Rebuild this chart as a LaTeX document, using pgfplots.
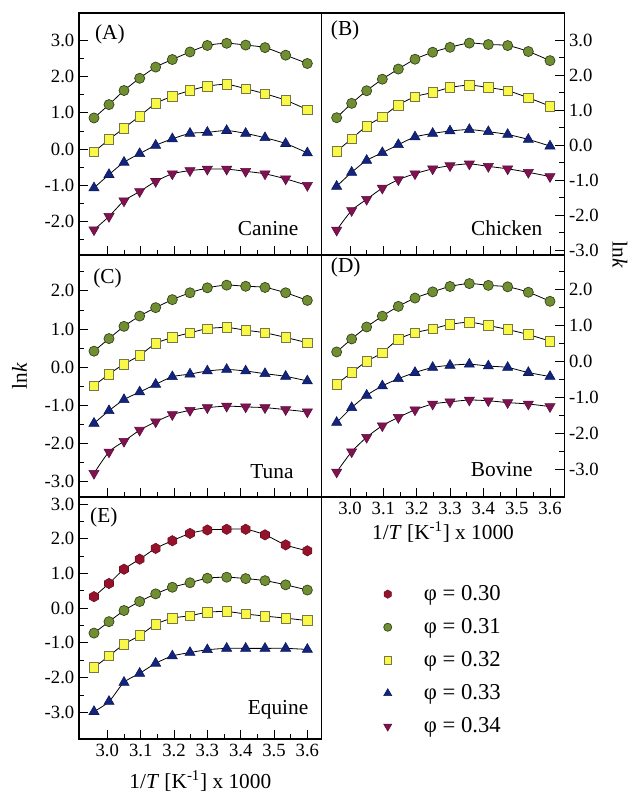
\documentclass[border=0pt]{standalone}
\usepackage{fontspec}
\setmainfont{Liberation Serif}
\usepackage{pgfplots}
\pgfplotsset{compat=1.18}
\usepackage{pgfplotstable}

\definecolor{cred}{RGB}{150,18,42}
\definecolor{cgreen}{RGB}{112,142,50}
\definecolor{cyellow}{RGB}{250,248,70}
\definecolor{cblue}{RGB}{18,36,125}
\definecolor{cpurple}{RGB}{128,18,82}

\newcommand\tickfont{\fontsize{14}{16}\selectfont}
\newcommand\labfont{\fontsize{16}{19}\selectfont}

\pgfdeclareplotmark{hexagon*}{%
  \pgfpathmoveto{\pgfpointpolar{30}{\pgfplotmarksize}}%
  \pgfpathlineto{\pgfpointpolar{90}{\pgfplotmarksize}}%
  \pgfpathlineto{\pgfpointpolar{150}{\pgfplotmarksize}}%
  \pgfpathlineto{\pgfpointpolar{210}{\pgfplotmarksize}}%
  \pgfpathlineto{\pgfpointpolar{270}{\pgfplotmarksize}}%
  \pgfpathlineto{\pgfpointpolar{330}{\pgfplotmarksize}}%
  \pgfpathclose
  \pgfusepathqfillstroke}

% lnk data per panel, x = 1/T x 1000
\pgfplotstableread{
x     p31   p32   p33   p34
2.960 0.86 -0.08 -1.08 -2.24
3.005 1.23  0.26 -0.71 -1.87
3.050 1.62  0.58 -0.37 -1.44
3.097 1.96  0.91 -0.13 -1.18
3.145 2.27  1.26  0.10 -0.90
3.195 2.48  1.46  0.28 -0.69
3.248 2.69  1.62  0.43 -0.60
3.300 2.87  1.74  0.46 -0.56
3.358 2.93  1.79  0.51 -0.56
3.415 2.88  1.67  0.43 -0.62
3.473 2.81  1.53  0.31 -0.69
3.535 2.60  1.35  0.15 -0.83
3.600 2.37  1.09 -0.11 -1.01
}\canine

\pgfplotstableread{
x     p31   p32   p33   p34
2.960 0.78 -0.18 -1.18 -2.43
3.005 1.19  0.18 -0.78 -1.87
3.050 1.55  0.54 -0.44 -1.55
3.097 1.88  0.81 -0.22 -1.23
3.145 2.17  1.14  0.01 -0.99
3.195 2.45  1.38  0.23 -0.82
3.248 2.65  1.50  0.33 -0.68
3.300 2.79  1.64  0.40 -0.59
3.358 2.91  1.71  0.44 -0.54
3.415 2.87  1.64  0.38 -0.61
3.473 2.84  1.55  0.30 -0.68
3.535 2.67  1.35  0.16 -0.78
3.600 2.41  1.11 -0.03 -0.90
}\chicken

\pgfplotstableread{
x     p31   p32   p33   p34
2.960 0.42 -0.49 -1.47 -2.78
3.005 0.75 -0.18 -1.14 -2.22
3.050 1.07  0.08 -0.85 -1.94
3.097 1.34  0.31 -0.65 -1.65
3.145 1.56  0.62 -0.45 -1.43
3.195 1.77  0.78 -0.25 -1.24
3.248 1.95  0.90 -0.18 -1.13
3.300 2.08  1.01 -0.10 -1.06
3.358 2.15  1.04 -0.06 -1.02
3.415 2.12  0.97 -0.10 -1.04
3.473 2.09  0.90 -0.17 -1.06
3.535 1.95  0.78 -0.24 -1.11
3.600 1.75  0.64 -0.36 -1.17
}\tuna

\pgfplotstableread{
x     p31   p32   p33   p34
2.960 0.26 -0.63 -1.69 -3.06
3.005 0.62 -0.31 -1.28 -2.50
3.050 0.95  0.00 -0.94 -2.10
3.097 1.25  0.24 -0.68 -1.78
3.145 1.52  0.61 -0.48 -1.55
3.195 1.75  0.79 -0.31 -1.34
3.248 1.92  0.90 -0.17 -1.18
3.300 2.07  1.02 -0.11 -1.12
3.358 2.15  1.08 -0.08 -1.07
3.415 2.10  0.99 -0.13 -1.09
3.473 2.06  0.88 -0.17 -1.14
3.535 1.91  0.74 -0.31 -1.18
3.600 1.66  0.56 -0.42 -1.25
}\bovine

\pgfplotstableread{
x     p30   p31   p32   p33
2.960 0.33 -0.72 -1.71 -2.98
3.005 0.71 -0.39 -1.38 -2.69
3.050 1.12 -0.07 -1.04 -2.14
3.097 1.41  0.19 -0.79 -1.88
3.145 1.72  0.41 -0.47 -1.59
3.195 1.94  0.60 -0.29 -1.38
3.248 2.15  0.73 -0.22 -1.28
3.300 2.25  0.86 -0.12 -1.20
3.358 2.27  0.89 -0.10 -1.16
3.415 2.27  0.85 -0.17 -1.16
3.473 2.11  0.79 -0.23 -1.16
3.535 1.82  0.67 -0.29 -1.16
3.600 1.65  0.52 -0.36 -1.19
}\equine

\pgfplotsset{
  panel/.style={
    scale only axis, width=182pt, height=181.5pt, anchor=south west,
    xmin=2.915, xmax=3.643,
    xtick={3.0,3.1,3.2,3.3,3.4,3.5,3.6}, minor x tick num=1,
    ytick={-3,-2,-1,0,1,2,3}, minor y tick num=1,
    tick align=inside, xtick pos=bottom,
    major tick length=7pt, minor tick length=4pt,
    axis line style={line width=0.8pt}, tick style={line width=0.6pt, black},
    ticklabel style={font=\tickfont},
    /pgf/number format/assume math mode=true,
    xticklabel style={/pgf/number format/.cd, fixed, fixed zerofill, precision=1},
    yticklabel style={/pgf/number format/.cd, fixed, fixed zerofill, precision=1},
    label style={font=\labfont},
  },
  fit/.style={black, line width=0.6pt, smooth, forget plot},
  s30/.style={only marks, mark=hexagon*, mark size=3.9pt,
    mark options={draw=cred!70!black, fill=cred, line width=0.4pt}},
  s31/.style={only marks, mark=*, mark size=3.8pt,
    mark options={draw=cgreen!45!black, fill=cgreen, line width=0.5pt}},
  s32/.style={only marks, mark=square*, mark size=3.6pt,
    mark options={draw=black!55!cyellow!60!gray, fill=cyellow, line width=0.5pt}},
  s33/.style={only marks, mark=triangle*, mark size=4.4pt,
    mark options={draw=cblue!70!black, fill=cblue, line width=0.4pt}},
  s34/.style={only marks, mark=triangle*, mark size=4.4pt,
    mark options={rotate=180, draw=cpurple!70!black, fill=cpurple, line width=0.4pt}},
}

\newcommand\fourseries[1]{%
  \addplot[fit] table[y=p31]{#1}; \addplot[s31] table[y=p31]{#1};
  \addplot[fit] table[y=p32]{#1}; \addplot[s32] table[y=p32]{#1};
  \addplot[fit] table[y=p33]{#1}; \addplot[s33] table[y=p33]{#1};
  \addplot[fit] table[y=p34]{#1}; \addplot[s34] table[y=p34]{#1};
}

\begin{document}
\begin{tikzpicture}
\path[use as bounding box] (0,0) rectangle (474pt,594.75pt);

% (A) Canine
\begin{axis}[panel, at={(59.25pt,403.5pt)}, ymin=-2.94, ymax=3.77,
  xticklabels={}, ytick pos=left]
  \fourseries{\canine}
  \node[font=\labfont, anchor=west, inner sep=0pt] at (rel axis cs:0.065,0.913) {(A)};
  \node[font=\labfont, anchor=east, inner sep=0pt] at (rel axis cs:0.905,0.11) {Canine};
\end{axis}

% (B) Chicken
\begin{axis}[panel, at={(241.25pt,403.5pt)}, ymin=-3.14, ymax=3.77,
  xticklabels={}, ytick pos=right, yticklabel pos=right,
  ylabel={ln\textit{k}},
  ylabel style={at={(axis description cs:1.23,0)}, anchor=center, rotate=180}]
  \fourseries{\chicken}
  \node[font=\labfont, anchor=west, inner sep=0pt] at (rel axis cs:0.037,0.927) {(B)};
  \node[font=\labfont, anchor=east, inner sep=0pt] at (rel axis cs:0.91,0.11) {Chicken};
\end{axis}

% (C) Tuna
\begin{axis}[panel, at={(59.25pt,222pt)}, ymin=-3.40, ymax=2.94,
  xticklabels={}, ytick pos=left,
  ylabel={ln\textit{k}},
  ylabel style={at={(axis description cs:-0.245,0.5)}, anchor=center}]
  \fourseries{\tuna}
  \node[font=\labfont, anchor=west, inner sep=0pt] at (rel axis cs:0.058,0.905) {(C)};
  \node[font=\labfont, anchor=east, inner sep=0pt] at (rel axis cs:0.885,0.103) {Tuna};
\end{axis}

% (D) Bovine
\begin{axis}[panel, at={(241.25pt,222pt)}, ymin=-3.75, ymax=2.94,
  ytick pos=right, yticklabel pos=right,
  xlabel={1/\textit{T} [K\textsuperscript{-1}] x 1000},
  xlabel style={at={(axis description cs:0.5,-0.145)}, anchor=center}]
  \fourseries{\bovine}
  \node[font=\labfont, anchor=west, inner sep=0pt] at (rel axis cs:0.037,0.95) {(D)};
  \node[font=\labfont, anchor=east, inner sep=0pt] at (rel axis cs:0.87,0.115) {Bovine};
\end{axis}

% (E) Equine, with the legend
\begin{axis}[panel, at={(59.25pt,40.5pt)}, ymin=-3.77, ymax=3.20,
  ytick pos=left,
  xlabel={1/\textit{T} [K\textsuperscript{-1}] x 1000},
  xlabel style={at={(axis description cs:0.5,-0.174)}, anchor=center},
  legend style={at={(axis description cs:1.238,0.657)}, anchor=north west,
    draw=none, fill=none, font=\fontsize{17}{20}\selectfont, row sep=8pt,
    /tikz/every odd column/.append style={column sep=22pt}},
  legend image post style={scale=0.8},
  legend cell align=left]
  \addplot[fit] table[y=p30]{\equine}; \addplot[s30] table[y=p30]{\equine};
  \addlegendentry{φ = 0.30}
  \addplot[fit] table[y=p31]{\equine}; \addplot[s31] table[y=p31]{\equine};
  \addlegendentry{φ = 0.31}
  \addplot[fit] table[y=p32]{\equine}; \addplot[s32] table[y=p32]{\equine};
  \addlegendentry{φ = 0.32}
  \addplot[fit] table[y=p33]{\equine}; \addplot[s33] table[y=p33]{\equine};
  \addlegendentry{φ = 0.33}
  \addlegendimage{s34}
  \addlegendentry{φ = 0.34}
  \node[font=\labfont, anchor=west, inner sep=0pt] at (rel axis cs:0.045,0.917) {(E)};
  \node[font=\labfont, anchor=east, inner sep=0pt] at (rel axis cs:0.946,0.12) {Equine};
\end{axis}
\end{tikzpicture}
\end{document}
